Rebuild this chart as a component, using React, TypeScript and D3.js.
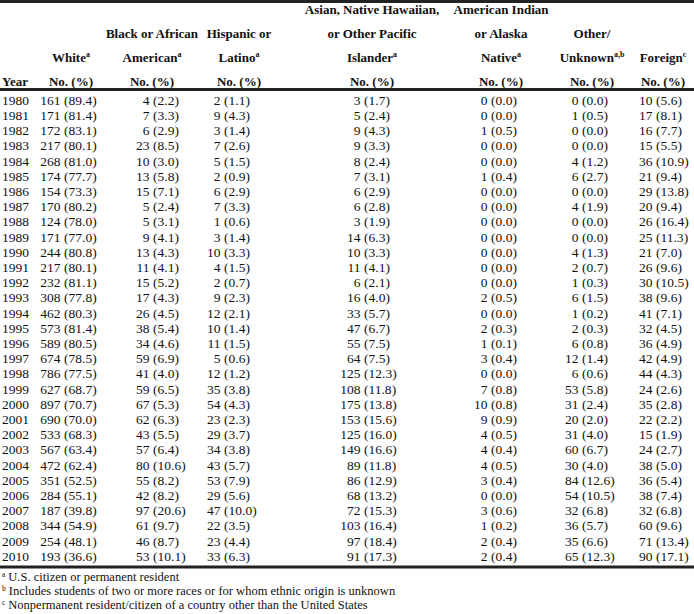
import React from "react";
import * as d3 from "d3";

const years = [1980,1981,1982,1983,1984,1985,1986,1987,1988,1989,1990,1991,1992,1993,1994,1995,1996,1997,1998,1999,2000,2001,2002,2003,2004,2005,2006,2007,2008,2009,2010];
const white = [161,171,172,217,268,174,154,170,124,171,244,217,232,308,462,573,589,674,786,627,897,690,533,567,472,351,284,187,344,254,193];
const whitePct = [89.4,81.4,83.1,80.1,81.0,77.7,73.3,80.2,78.0,77.0,80.8,80.1,81.1,77.8,80.3,81.4,80.5,78.5,77.5,68.7,70.7,70.0,68.3,63.4,62.4,52.5,55.1,39.8,54.9,48.1,36.6];
const black = [4,7,6,23,10,13,15,5,5,9,13,11,15,17,26,38,34,59,41,59,67,62,43,57,80,55,42,97,61,46,53];
const blackPct = [2.2,3.3,2.9,8.5,3.0,5.8,7.1,2.4,3.1,4.1,4.3,4.1,5.2,4.3,4.5,5.4,4.6,6.9,4.0,6.5,5.3,6.3,5.5,6.4,10.6,8.2,8.2,20.6,9.7,8.7,10.1];
const hispanic = [2,9,3,7,5,2,6,7,1,3,10,4,2,9,12,10,11,5,12,35,54,23,29,34,43,53,29,47,22,23,33];
const hispanicPct = [1.1,4.3,1.4,2.6,1.5,0.9,2.9,3.3,0.6,1.4,3.3,1.5,0.7,2.3,2.1,1.4,1.5,0.6,1.2,3.8,4.3,2.3,3.7,3.8,5.7,7.9,5.6,10.0,3.5,4.4,6.3];
const asian = [3,5,9,9,8,7,6,6,3,14,10,11,6,16,33,47,55,64,125,108,175,153,125,149,89,86,68,72,103,97,91];
const asianPct = [1.7,2.4,4.3,3.3,2.4,3.1,2.9,2.8,1.9,6.3,3.3,4.1,2.1,4.0,5.7,6.7,7.5,7.5,12.3,11.8,13.8,15.6,16.0,16.6,11.8,12.9,13.2,15.3,16.4,18.4,17.3];
const amInd = [0,0,1,0,0,1,0,0,0,0,0,0,0,2,0,2,1,3,0,7,10,9,4,4,4,3,0,3,1,2,2];
const amIndPct = [0.0,0.0,0.5,0.0,0.0,0.4,0.0,0.0,0.0,0.0,0.0,0.0,0.0,0.5,0.0,0.3,0.1,0.4,0.0,0.8,0.8,0.9,0.5,0.4,0.5,0.4,0.0,0.6,0.2,0.4,0.4];
const other = [0,1,0,0,4,6,0,4,0,0,4,2,1,6,1,2,6,12,6,53,31,20,31,60,30,84,54,32,36,35,65];
const otherPct = [0.0,0.5,0.0,0.0,1.2,2.7,0.0,1.9,0.0,0.0,1.3,0.7,0.3,1.5,0.2,0.3,0.8,1.4,0.6,5.8,2.4,2.0,4.0,6.7,4.0,12.6,10.5,6.8,5.7,6.6,12.3];
const foreign = [10,17,16,15,36,21,29,20,26,25,21,26,30,38,41,32,36,42,44,24,35,22,15,24,38,36,38,32,60,71,90];
const foreignPct = [5.6,8.1,7.7,5.5,10.9,9.4,13.8,9.4,16.4,11.3,7.0,9.6,10.5,9.6,7.1,4.5,4.9,4.9,4.3,2.6,2.8,2.2,1.9,2.7,5.0,5.4,7.4,6.8,9.6,13.4,17.1];

const columnKeys = ["white","black","hispanic","asian","amInd","other","foreign"];
const columnHeaders: [string, string][][] = [
  [["White", "a"]],
  [["Black or African", ""], ["American", "a"]],
  [["Hispanic or", ""], ["Latino", "a"]],
  [["Asian, Native Hawaiian,", ""], ["or Other Pacific", ""], ["Islander", "a"]],
  [["American Indian", ""], ["or Alaska", ""], ["Native", "a"]],
  [["Other/", ""], ["Unknown", "a,b"]],
  [["Foreign", "c"]],
];
const footnotes: [string, string][] = [
  ["a", "U.S. citizen or permanent resident"],
  ["b", "Includes students of two or more races or for whom ethnic origin is unknown"],
  ["c", "Nonpermanent resident/citizen of a country other than the United States"],
];

const seriesCounts = [white, black, hispanic, asian, amInd, other, foreign];
const seriesPcts = [whitePct, blackPct, hispanicPct, asianPct, amIndPct, otherPct, foreignPct];

const W = 694, H = 614;
const FONT = "Liberation Serif, Times New Roman, serif";

export default function App() {
  const y = d3.scalePoint<number>().domain(years).range([100, 556]);
  const xParen = d3.scaleOrdinal<string, number>().domain(columnKeys).range([64, 153, 224, 364, 491, 582, 656]);
  const xHead = d3.scaleOrdinal<string, number>().domain(columnKeys).range([71, 152, 239, 372, 501, 592, 663]);
  const headerLineY = d3.scaleLinear().domain([0, 3]).range([9, 81]);
  const fs = 13.5;
  const hfs = 13;
  const gap = 3.4;

  return (
    <svg width={W} height={H} style={{ position: "absolute", left: 0, top: 0, background: "#fff" }} fontFamily={FONT}>
      <rect width={W} height={H} fill="#fff" />
      <line x1={0} x2={W} y1={1.5} y2={1.5} stroke="#222" strokeWidth={3} />
      <line x1={0} x2={W} y1={89.5} y2={89.5} stroke="#222" strokeWidth={3} />
      <line x1={0} x2={W} y1={567} y2={567} stroke="#222" strokeWidth={3} />

      <text x={2} y={headerLineY(3) + 4.8} fontSize={hfs} fontWeight="bold" fill="#111">Year</text>
      {columnKeys.map((k, ci) => {
        const lines = columnHeaders[ci];
        const all = [...lines, ["No. (%)", ""] as [string, string]];
        const start = 4 - all.length;
        return (
          <g key={k}>
            {all.map(([t, sup], li) => (
              <text key={li} x={xHead(k)} y={headerLineY(start + li) + 4.8} fontSize={hfs} fontWeight="bold" textAnchor="middle" fill="#111">
                {t}
                {sup ? <tspan fontSize={8} dy={-5}>{sup}</tspan> : null}
              </text>
            ))}
          </g>
        );
      })}

      {years.map((yr, ri) => (
        <g key={yr} fontSize={fs} fill="#111">
          <text x={2} y={y(yr)! + 4.8}>{yr}</text>
          {columnKeys.map((k, ci) => (
            <g key={k}>
              <text x={xParen(k) - gap} y={y(yr)! + 4.8} textAnchor="end">{seriesCounts[ci][ri]}</text>
              <text x={xParen(k)} y={y(yr)! + 4.8}>({seriesPcts[ci][ri].toFixed(1)})</text>
            </g>
          ))}
        </g>
      ))}

      {footnotes.map(([s, t], i) => (
        <text key={s} x={2} y={581 + i * 14} fontSize={12.5} fill="#111">
          <tspan fontSize={7.5} dy={-4}>{s}</tspan>
          <tspan dy={4} dx={3}>{t}</tspan>
        </text>
      ))}
    </svg>
  );
}
